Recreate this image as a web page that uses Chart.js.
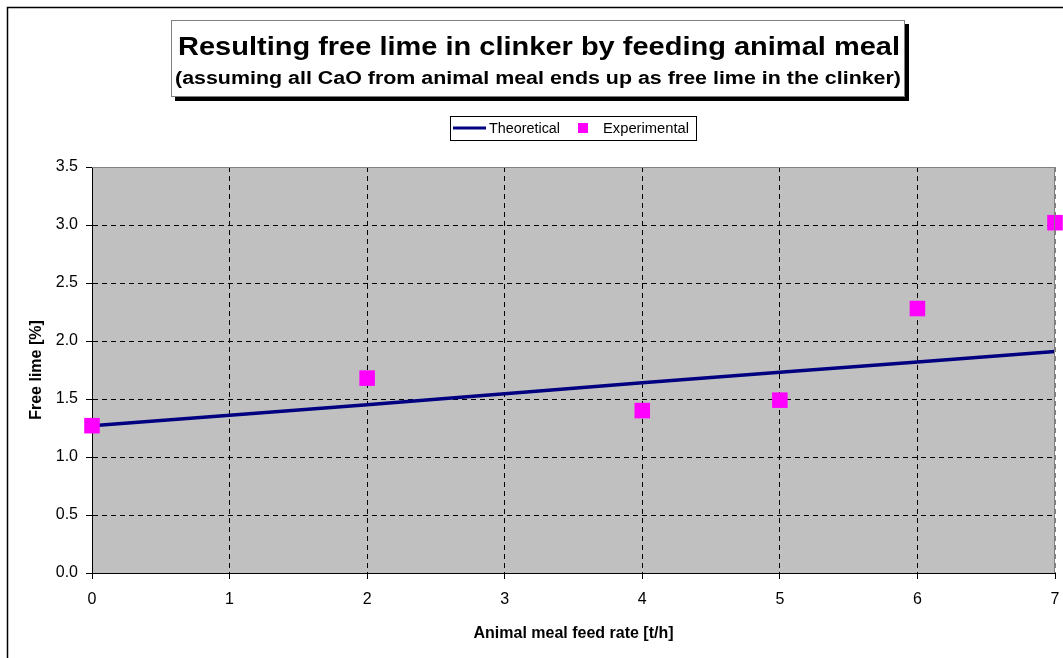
<!DOCTYPE html>
<html>
<head>
<meta charset="utf-8">
<script src="https://cdn.jsdelivr.net/npm/chart.js@4.4.1/dist/chart.umd.min.js"></script>
<style>
    html, body { margin: 0; padding: 0; background: #fff; }
    canvas { display: block; }
</style>
</head>
<body>
<canvas id="limeChart" width="1063" height="658"></canvas>
<script>
// Data
const feedRates = [0, 2, 4, 5, 6, 7];
const theoretical = [1.27, 1.45, 1.64, 1.73, 1.82, 1.91];
const experimental = [1.27, 1.68, 1.40, 1.49, 2.28, 3.02];
const xTickValues = [0, 1, 2, 3, 4, 5, 6, 7];
const yTickValues = [0, 0.5, 1, 1.5, 2, 2.5, 3, 3.5];

const titleText = 'Resulting free lime in clinker by feeding animal meal';
const subtitleText = '(assuming all CaO from animal meal ends up as free lime in the clinker)';
const xTitle = 'Animal meal feed rate [t/h]';
const yTitle = 'Free lime [%]';

const FONT = '"Liberation Sans", Arial, Helvetica, sans-serif';

// draw text squeezed/stretched to a given width
function fitText(ctx, text, cx, y, width) {
    const w = ctx.measureText(text).width;
    ctx.save();
    ctx.translate(cx, y);
    ctx.scale(width / w, 1);
    ctx.textAlign = 'center';
    ctx.fillText(text, 0, 0);
    ctx.restore();
}

const excelFrame = {
    id: 'excelFrame',
    beforeDraw(chart) {
        const { ctx, chartArea: a } = chart;
        ctx.save();
        // outer chart border
        ctx.strokeStyle = '#000';
        ctx.lineWidth = 1.5;
        ctx.strokeRect(7.5, 7.5, 1080, 680);
        // plot area
        ctx.fillStyle = '#c0c0c0';
        ctx.fillRect(a.left, a.top, a.right - a.left, a.bottom - a.top);
        ctx.restore();
    },
    afterDraw(chart) {
        const { ctx, chartArea: a } = chart;
        ctx.save();
        // gray plot border (top / right)
        ctx.strokeStyle = '#808080';
        ctx.lineWidth = 1;
        ctx.beginPath();
        ctx.moveTo(a.left, a.top + 0.5);
        ctx.lineTo(a.right - 0.5, a.top + 0.5);
        ctx.lineTo(a.right - 0.5, a.bottom);
        ctx.stroke();

        // title box with shadow
        ctx.fillStyle = '#000';
        ctx.fillRect(175, 24, 734, 77);
        ctx.fillStyle = '#fff';
        ctx.fillRect(171, 20, 734, 77);
        ctx.strokeStyle = '#808080';
        ctx.strokeRect(171.5, 20.5, 733, 76);

        ctx.fillStyle = '#000';
        ctx.textBaseline = 'alphabetic';
        ctx.font = 'bold 26px ' + FONT;
        fitText(ctx, titleText, 539, 55, 722);
        ctx.font = 'bold 18px ' + FONT;
        fitText(ctx, subtitleText, 538, 84, 726);

        // legend
        const ds = chart.data.datasets;
        ctx.fillStyle = '#fff';
        ctx.fillRect(450, 116, 246, 24);
        ctx.strokeStyle = '#000';
        ctx.strokeRect(450.5, 116.5, 246, 24);
        ctx.strokeStyle = ds[0].borderColor;
        ctx.lineWidth = 3;
        ctx.beginPath();
        ctx.moveTo(453, 128);
        ctx.lineTo(486, 128);
        ctx.stroke();
        ctx.fillStyle = ds[1].backgroundColor;
        ctx.fillRect(578, 123, 10, 10);
        ctx.fillStyle = '#000';
        ctx.font = '14px ' + FONT;
        ctx.textBaseline = 'middle';
        fitText(ctx, ds[0].label, 524.5, 129, 71);
        fitText(ctx, ds[1].label, 646, 129, 86);
        ctx.restore();
    }
};

const ctx = document.getElementById('limeChart');

new Chart(ctx, {
    type: 'scatter',
    data: {
        datasets: [{
            label: 'Theoretical',
            data: feedRates.map((x, i) => ({ x: x, y: theoretical[i] })),
            showLine: true,
            borderColor: '#000080',
            backgroundColor: '#000080',
            borderWidth: 3.5,
            pointRadius: 0,
            order: 2
        }, {
            label: 'Experimental',
            data: feedRates.map((x, i) => ({ x: x, y: experimental[i] })),
            showLine: false,
            pointStyle: 'rect',
            pointRadius: 11,
            pointHoverRadius: 11,
            backgroundColor: '#ff00ff',
            borderColor: '#ff00ff',
            borderWidth: 0,
            clip: false,
            order: 1
        }]
    },
    options: {
        responsive: false,
        animation: false,
        events: [],
        layout: { autoPadding: false, padding: { top: 167, right: 8, left: 0, bottom: 0 } },
        plugins: {
            legend: { display: false },
            title: { display: false },
            tooltip: { enabled: false }
        },
        scales: {
            x: {
                type: 'linear',
                min: 0,
                max: 7,
                afterBuildTicks: scale => { scale.ticks = xTickValues.map(v => ({ value: v })); },
                afterFit: scale => {
                    scale.height = 85;
                    scale.paddingLeft = 0;
                    scale.paddingRight = 0;
                },
                grid: {
                    color: c => (c.tick && c.tick.value === 7 ? '#808080' : '#000'),
                    lineWidth: 1,
                    tickLength: 6,
                    tickColor: '#000'
                },
                border: { display: true, color: '#000', width: 1, dash: [5, 4] },
                ticks: {
                    color: '#000',
                    padding: 11,
                    maxRotation: 0,
                    font: { family: FONT, size: 16 },
                    callback: v => String(v)
                },
                title: {
                    display: true,
                    text: xTitle,
                    color: '#000',
                    font: { family: FONT, size: 16, weight: 'bold' },
                    padding: { top: 0, bottom: 15 }
                }
            },
            y: {
                min: 0,
                max: 3.5,
                afterBuildTicks: scale => { scale.ticks = yTickValues.map(v => ({ value: v })); },
                afterFit: scale => {
                    scale.width = 92;
                    scale.paddingTop = 0;
                    scale.paddingBottom = 0;
                },
                grid: {
                    color: c => (c.tick && c.tick.value === 3.5 ? '#808080' : '#000'),
                    lineWidth: 1,
                    tickLength: 6,
                    tickColor: '#000'
                },
                border: { display: true, color: '#000', width: 1, dash: [5, 4] },
                ticks: {
                    color: '#000',
                    padding: 8,
                    font: { family: FONT, size: 16 },
                    callback: v => v.toFixed(1)
                },
                title: {
                    display: true,
                    text: yTitle,
                    color: '#000',
                    font: { family: FONT, size: 16, weight: 'bold' },
                    padding: { top: 27, bottom: 0 }
                }
            }
        }
    },
    plugins: [excelFrame]
});
</script>
</body>
</html>
